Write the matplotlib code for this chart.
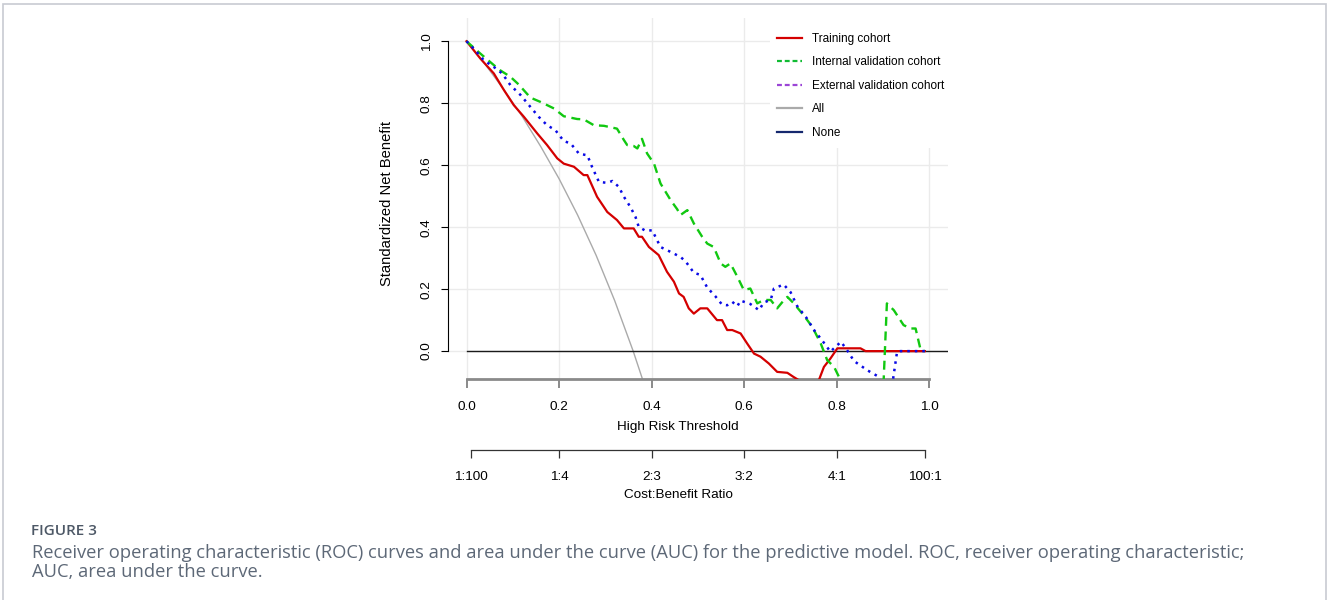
import matplotlib
matplotlib.use("Agg")
import matplotlib.pyplot as plt
from matplotlib.lines import Line2D
from matplotlib.patches import Rectangle

# decision curves (threshold, standardized net benefit)
train_x = [0, 0.03, 0.059, 0.081, 0.102, 0.124, 0.153, 0.174, 0.196, 0.21, 0.232, 0.253, 0.261,
           0.282, 0.304, 0.325, 0.34, 0.361, 0.372, 0.379, 0.394, 0.415, 0.433, 0.448, 0.459,
           0.469, 0.48, 0.491, 0.505, 0.52, 0.541, 0.552, 0.563, 0.574, 0.592, 0.606, 0.621,
           0.635, 0.653, 0.671, 0.693, 0.706, 0.718, 0.74, 0.761, 0.772, 0.786, 0.801, 0.822,
           0.851, 0.862, 0.99]
train_y = [1.0, 0.944, 0.896, 0.842, 0.794, 0.756, 0.702, 0.665, 0.622, 0.605, 0.595, 0.568, 0.568,
           0.498, 0.449, 0.423, 0.396, 0.396, 0.369, 0.369, 0.336, 0.31, 0.256, 0.224, 0.186,
           0.175, 0.138, 0.121, 0.138, 0.138, 0.1, 0.1, 0.068, 0.068, 0.057, 0.025, -0.008,
           -0.018, -0.04, -0.067, -0.07, -0.083, -0.094, -0.11, -0.094, -0.051, -0.024, 0.009, 0.009,
           0.009, 0.0, 0.0]

int_x = [0, 0.03, 0.059, 0.073, 0.095, 0.113, 0.138, 0.16, 0.189, 0.21, 0.239, 0.253, 0.275, 0.297,
         0.325, 0.34, 0.347, 0.361, 0.369, 0.379, 0.39, 0.405, 0.419, 0.441, 0.455, 0.462, 0.477,
         0.491, 0.509, 0.52, 0.534, 0.549, 0.559, 0.57, 0.585, 0.599, 0.613, 0.628, 0.642, 0.657,
         0.671, 0.687, 0.693, 0.707, 0.728, 0.747, 0.765, 0.779, 0.794, 0.808, 0.85, 0.901, 0.908,
         0.923, 0.944, 0.959, 0.97, 0.981, 0.99]
int_y = [1.0, 0.96, 0.923, 0.906, 0.885, 0.86, 0.818, 0.804, 0.783, 0.758, 0.749, 0.748, 0.729, 0.727,
         0.718, 0.681, 0.665, 0.662, 0.654, 0.685, 0.638, 0.605, 0.541, 0.487, 0.458, 0.439, 0.455,
         0.412, 0.369, 0.347, 0.336, 0.283, 0.272, 0.283, 0.24, 0.197, 0.202, 0.154, 0.165, 0.165,
         0.138, 0.167, 0.175, 0.154, 0.116, 0.078, 0.025, -0.029, -0.051, -0.094, -0.2, -0.094, 0.154,
         0.132, 0.084, 0.073, 0.073, 0.003, 0.0]

ext_x = [0, 0.019, 0.037, 0.059, 0.077, 0.095, 0.117, 0.138, 0.156, 0.174, 0.192, 0.21, 0.225, 0.243,
         0.261, 0.271, 0.286, 0.304, 0.315, 0.329, 0.34, 0.354, 0.365, 0.372, 0.387, 0.401, 0.419,
         0.441, 0.462, 0.473, 0.491, 0.505, 0.52, 0.538, 0.552, 0.563, 0.574, 0.585, 0.592, 0.613,
         0.632, 0.642, 0.657, 0.664, 0.685, 0.7, 0.714, 0.734, 0.752, 0.768, 0.786, 0.797, 0.809,
         0.822, 0.837, 0.866, 0.887, 0.894, 0.921, 0.93, 0.937, 0.99]
ext_y = [1.0, 0.971, 0.939, 0.917, 0.896, 0.858, 0.826, 0.788, 0.756, 0.729, 0.713, 0.678, 0.67, 0.637,
         0.632, 0.595, 0.546, 0.543, 0.549, 0.53, 0.498, 0.465, 0.433, 0.401, 0.388, 0.39, 0.336,
         0.32, 0.304, 0.29, 0.253, 0.246, 0.205, 0.176, 0.15, 0.148, 0.159, 0.145, 0.163, 0.152,
         0.132, 0.157, 0.165, 0.202, 0.215, 0.19, 0.146, 0.108, 0.065, 0.035, -0.002, 0.014, 0.03,
         0.003, -0.032, -0.062, -0.08, -0.094, -0.094, -0.002, 0.0, 0.0]

all_x = [0, 0.04, 0.08, 0.12, 0.16, 0.2, 0.24, 0.28, 0.32, 0.36, 0.38]
all_y = [1.0, 0.926, 0.845, 0.758, 0.661, 0.556, 0.439, 0.309, 0.163, 0.0, -0.09]

none_x = [0, 1.04]
none_y = [0, 0]

thr_ticks = [0.0, 0.2, 0.4, 0.6, 0.8, 1.0]
thr_labels = ["0.0", "0.2", "0.4", "0.6", "0.8", "1.0"]
cb_ticks = [1 / 101, 0.2, 0.4, 0.6, 0.8, 100 / 101]
cb_labels = ["1:100", "1:4", "2:3", "3:2", "4:1", "100:1"]
nb_ticks = [0.0, 0.2, 0.4, 0.6, 0.8, 1.0]
nb_labels = ["0.0", "0.2", "0.4", "0.6", "0.8", "1.0"]

series_names = ["Training cohort", "Internal validation cohort", "External validation cohort", "All", "None"]

plt.rcParams['font.family'] = ['Liberation Sans', 'DejaVu Sans']

W, H = 1328, 600
fig = plt.figure(figsize=(W / 100, H / 100), dpi=100)

# axes box in pixels: x 448..948, y 18..379
ax = fig.add_axes([448 / W, 1 - 379 / H, 500 / W, 361 / H])
ax.set_xlim(-0.04, 1.04)
ax.set_ylim(-0.09, 1.075)

grid_c = '#ebebeb'
for t in nb_ticks:
    ax.axhline(t, color=grid_c, lw=1, zorder=0)
for t in thr_ticks:
    ax.axvline(t, color=grid_c, lw=1, zorder=0)

# white legend background hides the grid behind it
ax.add_patch(Rectangle((770 / W, 1 - 148 / H), 180 / W, 135 / H, transform=fig.transFigure,
                       facecolor='white', edgecolor='none', zorder=1, clip_on=False))

ax.plot(all_x, all_y, color='#aaaaaa', lw=1.0, zorder=2)
ax.plot(none_x, none_y, color='#1a1a1a', lw=1.0, zorder=2)
ax.plot(train_x, train_y, color='#d40000', lw=1.6, zorder=3)
ax.plot(int_x, int_y, color='#11c811', lw=1.7, linestyle=(0, (3.8, 2.4)), zorder=3)
ax.plot(ext_x, ext_y, color='#0a0ae6', lw=1.8, linestyle=(0, (1.0, 2.0)), zorder=4)

for s in ['top', 'right']:
    ax.spines[s].set_visible(False)
ax.spines['left'].set_bounds(0, 1)
ax.spines['left'].set_linewidth(0.8)
ax.spines['bottom'].set_bounds(0, 1)
ax.spines['bottom'].set_color('#8a8a8a')
ax.spines['bottom'].set_linewidth(2)

ax.set_xticks(thr_ticks)
ax.set_xticklabels(thr_labels)
ax.set_yticks(nb_ticks)
ax.set_yticklabels(nb_labels, rotation=90, va='center')
ax.tick_params(axis='x', length=6.5, width=1.4, color='#8a8a8a', pad=9, labelsize=9.7)
ax.tick_params(axis='y', length=5, width=0.8, pad=6, labelsize=9.7)

# cost:benefit axis
ax2 = fig.add_axes([448 / W, 1 - 450 / H, 500 / W, 0.0001])
ax2.set_xlim(-0.04, 1.04)
ax2.patch.set_visible(False)
for s in ['top', 'right', 'left']:
    ax2.spines[s].set_visible(False)
ax2.spines['bottom'].set_bounds(cb_ticks[0], cb_ticks[-1])
ax2.spines['bottom'].set_color('#333333')
ax2.spines['bottom'].set_linewidth(0.9)
ax2.set_yticks([])
ax2.set_xticks(cb_ticks)
ax2.set_xticklabels(cb_labels)
ax2.tick_params(axis='x', length=6, width=0.9, color='#333333', pad=9, labelsize=9.7)

fig.text(678 / W, 1 - 427 / H, "High Risk Threshold", ha='center', va='center', fontsize=9.7)
fig.text(678 / W, 1 - 495 / H, "Cost:Benefit Ratio", ha='center', va='center', fontsize=9.7)
fig.text(387 / W, 1 - 203 / H, "Standardized Net Benefit", rotation=90,
         ha='center', va='center', fontsize=10.6)

handles = [
    Line2D([], [], color='#d40000', lw=1.6),
    Line2D([], [], color='#11bb33', lw=1.6, linestyle=(0, (2.2, 1.3))),
    Line2D([], [], color='#9b45d6', lw=1.6, linestyle=(0, (2.2, 1.3))),
    Line2D([], [], color='#aaaaaa', lw=1.6),
    Line2D([], [], color='#15286e', lw=1.6),
]
leg = ax.legend(handles, series_names, loc='upper left', bbox_to_anchor=(777 / W, 1 - 33 / H),
                bbox_transform=fig.transFigure, fontsize=8.5, frameon=False,
                handlelength=2.1, handletextpad=0.85, labelspacing=0.97, borderpad=0,
                borderaxespad=0)
leg.set_zorder(5)

# caption
cap_c = '#5d6877'
fig.text(31 / W, 1 - 531 / H, "FIGURE 3", fontsize=11, color='#4d5866',
         family='Open Sans', weight='semibold', va='center')
fig.text(32 / W, 1 - 553 / H,
         "Receiver operating characteristic (ROC) curves and area under the curve (AUC) for the "
         "predictive model. ROC, receiver operating characteristic;",
         fontsize=13.2, color=cap_c, family='Open Sans', va='center')
fig.text(32 / W, 1 - 572 / H, "AUC, area under the curve.",
         fontsize=13.2, color=cap_c, family='Open Sans', va='center')

fig.patches.append(Rectangle((3 / W, -0.05), 1323 / W, 1.05 - 4 / H, transform=fig.transFigure,
                             fill=False, edgecolor='#c8cbd2', lw=1.2))

fig.savefig("out.png", dpi=100)
